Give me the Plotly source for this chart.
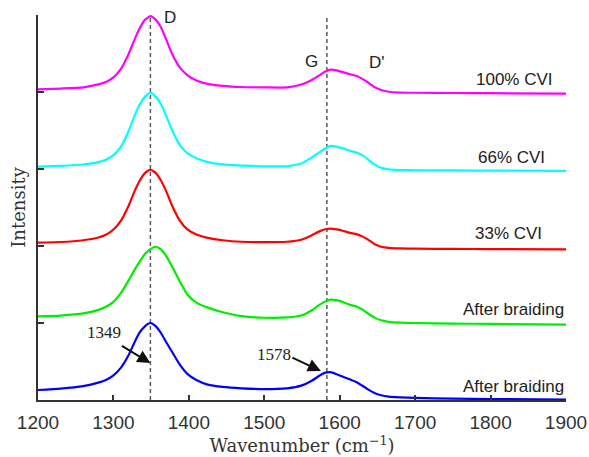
import plotly.graph_objects as go

# ---- data (wavenumber in cm^-1, stacked intensity) ----
wavenumber = [1200, 1230, 1260, 1280, 1290, 1300, 1310, 1320, 1328, 1335, 1342, 1349, 1356,
              1363, 1370, 1378, 1388, 1398, 1410, 1425, 1445, 1470, 1500, 1530, 1550, 1563,
              1573, 1581, 1588, 1596, 1605, 1614, 1622, 1630, 1638, 1646, 1655, 1665, 1680,
              1700, 1750, 1800, 1900]

blue_y = [0.13, 0.148, 0.18, 0.225, 0.26, 0.32, 0.42, 0.58, 0.75, 0.88, 0.96, 1.0, 0.96,
          0.87, 0.75, 0.62, 0.46, 0.34, 0.26, 0.20, 0.17, 0.152, 0.142, 0.152, 0.19, 0.25,
          0.315, 0.355, 0.362, 0.335, 0.30, 0.265, 0.235, 0.185, 0.135, 0.092, 0.062, 0.045,
          0.035, 0.027, 0.018, 0.012, 0.005]

green_y = [1.085, 1.097, 1.125, 1.17, 1.21, 1.275, 1.39, 1.55, 1.69, 1.80, 1.90, 1.96, 1.99,
           1.955, 1.87, 1.73, 1.54, 1.37, 1.265, 1.20, 1.14, 1.09, 1.068, 1.072, 1.10, 1.165,
           1.235, 1.28, 1.303, 1.297, 1.27, 1.235, 1.215, 1.175, 1.12, 1.07, 1.035, 1.015,
           1.005, 1.0, 0.993, 0.988, 0.98]

red_y = [2.045, 2.052, 2.075, 2.11, 2.145, 2.215, 2.33, 2.52, 2.71, 2.85, 2.95, 2.99, 2.95,
         2.85, 2.71, 2.52, 2.33, 2.215, 2.15, 2.105, 2.075, 2.055, 2.05, 2.055, 2.085, 2.14,
         2.19, 2.218, 2.225, 2.215, 2.195, 2.17, 2.155, 2.125, 2.08, 2.025, 1.99, 1.975,
         1.968, 1.965, 1.962, 1.96, 1.955]

cyan_y = [3.03, 3.04, 3.058, 3.09, 3.12, 3.18, 3.29, 3.49, 3.69, 3.84, 3.94, 3.99, 3.94,
          3.84, 3.69, 3.50, 3.31, 3.205, 3.14, 3.09, 3.06, 3.045, 3.035, 3.035, 3.075, 3.15,
          3.215, 3.27, 3.30, 3.29, 3.265, 3.235, 3.215, 3.18, 3.12, 3.06, 3.015, 2.995,
          2.987, 2.984, 2.981, 2.979, 2.975]

magenta_y = [4.035, 4.045, 4.06, 4.099, 4.13, 4.19, 4.30, 4.49, 4.68, 4.83, 4.94, 4.985, 4.94,
             4.84, 4.68, 4.49, 4.32, 4.22, 4.15, 4.105, 4.08, 4.065, 4.06, 4.06, 4.10, 4.157,
             4.216, 4.267, 4.29, 4.28, 4.255, 4.23, 4.21, 4.17, 4.12, 4.065, 4.025, 4.003,
             3.993, 3.99, 3.987, 3.985, 3.978]

series_names = ["After braiding", "After braiding", "33% CVI", "66% CVI", "100% CVI"]
series_colors = ["#0000ff", "#00ee00", "#ff0000", "#00ffff", "#ff00ff"]
series_y = [blue_y, green_y, red_y, cyan_y, magenta_y]

# label anchor positions (right edge) for each curve label
label_x = [1900, 1900, 1871, 1875, 1886]
label_y = [0.18, 1.17, 2.16, 3.15, 4.16]

peak_lines = [1349, 1583]
peak_line_top = 4.97

band_names = ["D", "G", "D'"]
band_x = [1375, 1562, 1650]
band_y = [4.97, 4.40, 4.38]

callout_text = ["1349", "1578"]
callout_text_x = [1287, 1513]
callout_text_y = [0.88, 0.585]
callout_tip_x = [1349, 1575]
callout_tip_y = [0.48, 0.377]
callout_ax = [-30, -30]
callout_ay = [-18, -14]

x_ticks = [1200, 1300, 1400, 1500, 1600, 1700, 1800, 1900]
y_ticks = [1, 2, 3, 4, 5]

fig = go.Figure()

for px in peak_lines:
    fig.add_trace(go.Scatter(x=[px, px], y=[0, peak_line_top], mode="lines",
                             line=dict(color="#5a5a5a", width=1.5, dash="4px,3px"),
                             showlegend=False, hoverinfo="skip"))

for name, col, ys in zip(series_names, series_colors, series_y):
    fig.add_trace(go.Scatter(x=wavenumber, y=ys, mode="lines", name=name,
                             line=dict(color=col, width=2.2, shape="spline", smoothing=0.5),
                             showlegend=False))

annotations = []
sans = dict(family="Liberation Sans, Arial, sans-serif", size=17, color="#222222")
for name, lx, ly in zip(series_names, label_x, label_y):
    annotations.append(dict(x=lx, y=ly, text=name, showarrow=False, xanchor="right",
                            yanchor="middle", font=sans))
for name, bx, by in zip(band_names, band_x, band_y):
    annotations.append(dict(x=bx, y=by, text=name, showarrow=False, xanchor="center",
                            yanchor="middle", font=sans))
serif_num = dict(family="Liberation Serif, Times New Roman, serif", size=17, color="#222222")
for t, tx, ty in zip(callout_text, callout_text_x, callout_text_y):
    annotations.append(dict(x=tx, y=ty, text=t, showarrow=False, xanchor="center",
                            yanchor="middle", font=serif_num))
for tx, ty, ax, ay in zip(callout_tip_x, callout_tip_y, callout_ax, callout_ay):
    annotations.append(dict(x=tx, y=ty, text="", showarrow=True, ax=ax, ay=ay,
                            arrowhead=2, arrowsize=1.3, arrowwidth=2, arrowcolor="#111111",
                            standoff=0, startstandoff=0))

fig.update_layout(
    width=589, height=457,
    margin=dict(l=38, r=23, t=15, b=57),
    paper_bgcolor="white", plot_bgcolor="white",
    annotations=annotations,
    xaxis=dict(range=[1200, 1900], tickvals=x_ticks, ticks="inside", ticklen=5, tickwidth=1.5,
               tickcolor="#333333", showline=True, linecolor="#333333", linewidth=2,
               showgrid=False, zeroline=False, automargin=False, ticklabelstandoff=4,
               tickfont=dict(family="Liberation Sans, Arial, sans-serif", size=19, color="#333333"),
               title=dict(text="Wavenumber (cm<sup>−1</sup>)", standoff=2,
                          font=dict(family="DejaVu Serif, serif", size=18, color="#333333"))),
    yaxis=dict(range=[0, 5], tickvals=y_ticks, ticks="inside", ticklen=6, tickwidth=2,
               tickcolor="#333333", showline=True, linecolor="#333333", linewidth=2,
               showgrid=False, zeroline=False, showticklabels=False, automargin=False,
               title=dict(text="Intensity", standoff=6,
                          font=dict(family="DejaVu Serif, serif", size=18, color="#333333"))),
)

fig.write_html("out.html", config={"displayModeBar": False},
               post_script="document.body.style.margin='0';document.body.style.overflow='hidden';")
